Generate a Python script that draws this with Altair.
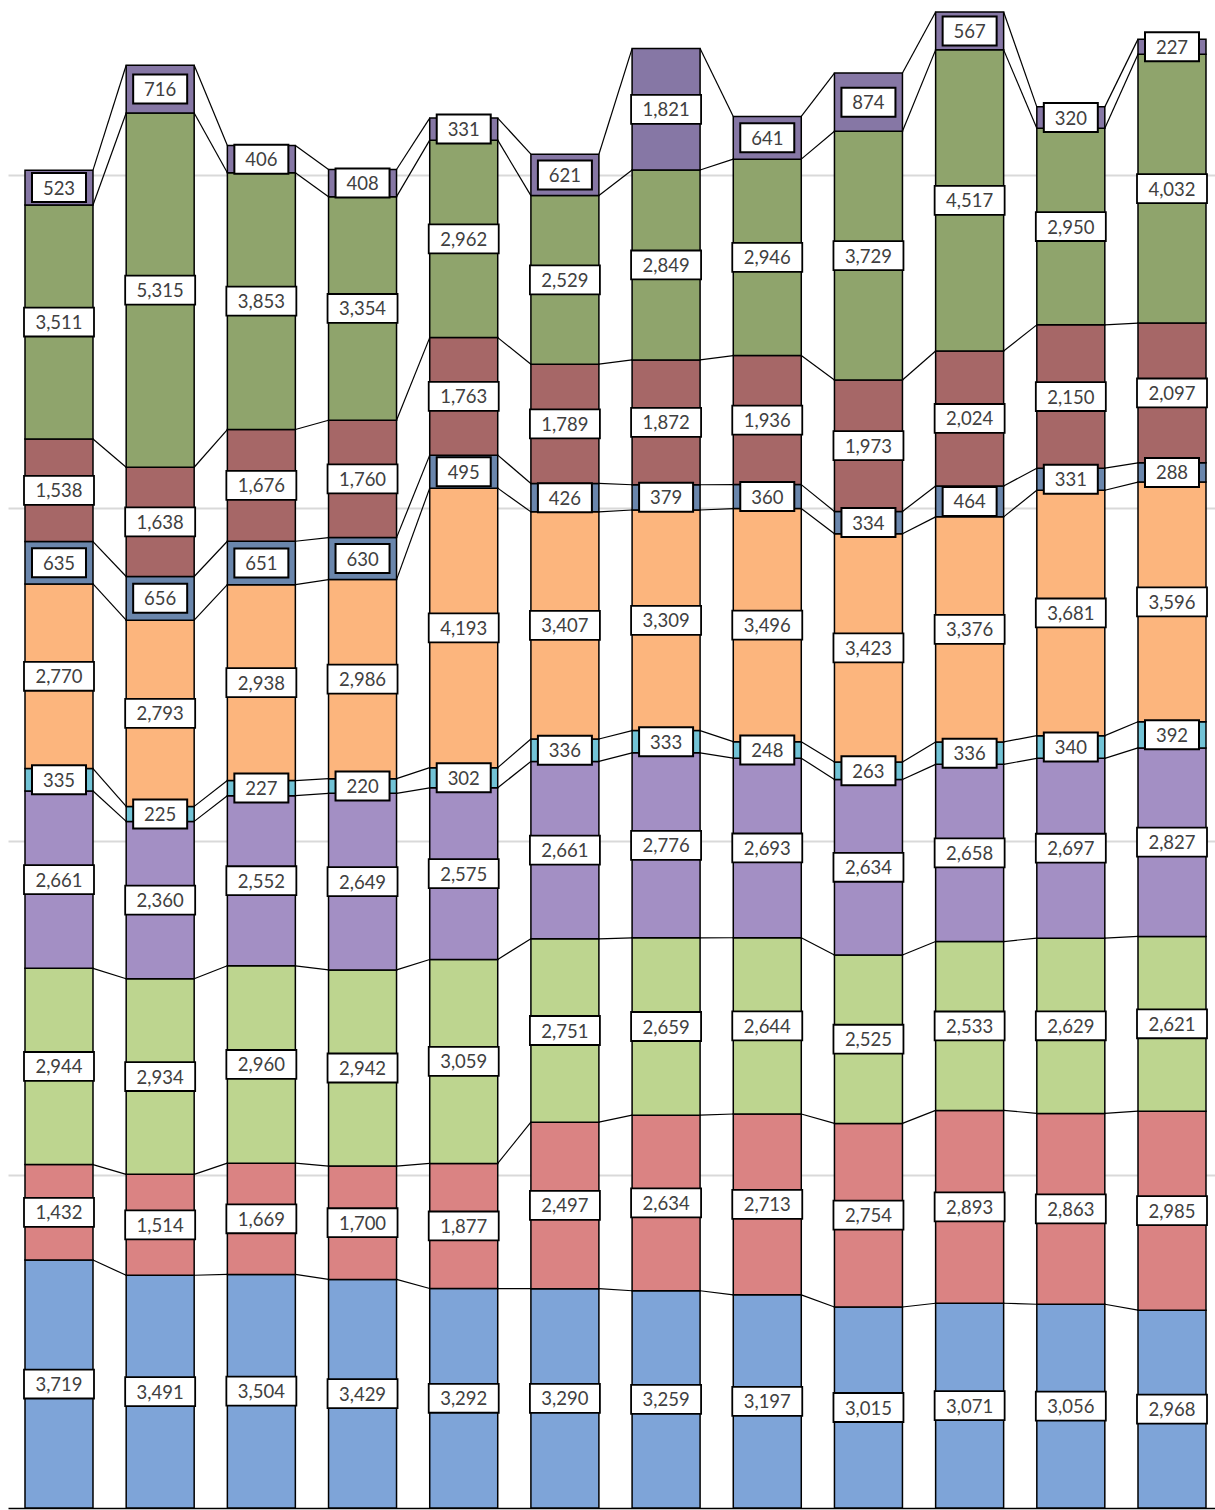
import altair as alt
import pandas as pd

# ---- data (bottom segment first) ----
bars = list(range(12))
series = ["S1", "S2", "S3", "S4", "S5", "S6", "S7", "S8", "S9", "S10"]
colors = ["#7EA4D8", "#DA8383", "#BDD58F", "#A38FC4", "#72C3D6",
          "#FCB57D", "#6A86AC", "#A66767", "#8FA46C", "#8677A5"]

s1 = [3719, 3491, 3504, 3429, 3292, 3290, 3259, 3197, 3015, 3071, 3056, 2968]
s2 = [1432, 1514, 1669, 1700, 1877, 2497, 2634, 2713, 2754, 2893, 2863, 2985]
s3 = [2944, 2934, 2960, 2942, 3059, 2751, 2659, 2644, 2525, 2533, 2629, 2621]
s4 = [2661, 2360, 2552, 2649, 2575, 2661, 2776, 2693, 2634, 2658, 2697, 2827]
s5 = [335, 225, 227, 220, 302, 336, 333, 248, 263, 336, 340, 392]
s6 = [2770, 2793, 2938, 2986, 4193, 3407, 3309, 3496, 3423, 3376, 3681, 3596]
s7 = [635, 656, 651, 630, 495, 426, 379, 360, 334, 464, 331, 288]
s8 = [1538, 1638, 1676, 1760, 1763, 1789, 1872, 1936, 1973, 2024, 2150, 2097]
s9 = [3511, 5315, 3853, 3354, 2962, 2529, 2849, 2946, 3729, 4517, 2950, 4032]
s10 = [523, 716, 406, 408, 331, 621, 1821, 641, 874, 567, 320, 227]
values = [s1, s2, s3, s4, s5, s6, s7, s8, s9, s10]

grid_values = [5000, 10000, 15000, 20000]

# ---- build tables ----
seg_rows = []
tops = {}
for i in bars:
    cum = 0
    for k, name in enumerate(series):
        v = values[k][i]
        seg_rows.append(dict(i=i, series=name, order=k, value=v,
                             y0=cum, y1=cum + v, ym=cum + v / 2))
        cum += v
        tops[(i, k)] = cum
seg = pd.DataFrame(seg_rows)

line_rows = []
for i in bars[:-1]:
    for k in range(len(series)):
        line_rows.append(dict(i=i, ly=tops[(i, k)], ry=tops[(i + 1, k)]))
lines = pd.DataFrame(line_rows)

HW = 0.336  # half bar width, in band units

xscale = alt.Scale(domain=[-0.504, 11.425], nice=False, zero=False)
yscale = alt.Scale(domain=[0, 22620], nice=False, zero=True)
xaxis = alt.Axis(labels=False, ticks=False, grid=False, title=None,
                 domainColor="black", domainWidth=1.5)
yaxis = alt.Axis(values=grid_values, labels=False, ticks=False,
                 domain=False, title=None, grid=True,
                 gridColor="#d9d9d9", gridWidth=2)

base = alt.Chart(seg)

bar_layer = base.mark_rect(stroke="black", strokeWidth=1.5).transform_calculate(
    xl=f"datum.i - {HW}", xr=f"datum.i + {HW}"
).encode(
    x=alt.X("xl:Q", scale=xscale, axis=xaxis),
    x2="xr:Q",
    y=alt.Y("y0:Q", scale=yscale, axis=yaxis),
    y2="y1:Q",
    color=alt.Color("series:N", scale=alt.Scale(domain=series, range=colors),
                    legend=None),
)

line_layer = alt.Chart(lines).mark_rule(color="black", strokeWidth=1.2).transform_calculate(
    lx=f"datum.i + {HW}", rx=f"datum.i + 1 - {HW}"
).encode(
    x=alt.X("lx:Q", scale=xscale, axis=xaxis),
    x2="rx:Q",
    y=alt.Y("ly:Q", scale=yscale, axis=yaxis),
    y2="ry:Q",
)

WIDE = "M-1,-0.414L1,-0.414L1,0.414L-1,0.414Z"
NARROW = "M-1,-0.537L1,-0.537L1,0.537L-1,0.537Z"

box_wide = base.transform_filter("datum.value >= 1000").mark_point(
    shape=WIDE, size=4900, filled=True, fill="white", stroke="black",
    strokeWidth=1.8, opacity=1
).encode(
    x=alt.X("i:Q", scale=xscale, axis=xaxis),
    y=alt.Y("ym:Q", scale=yscale, axis=yaxis),
)

box_narrow = base.transform_filter("datum.value < 1000").mark_point(
    shape=NARROW, size=2916, filled=True, fill="white", stroke="black",
    strokeWidth=2, opacity=1
).encode(
    x=alt.X("i:Q", scale=xscale, axis=xaxis),
    y=alt.Y("ym:Q", scale=yscale, axis=yaxis),
)

text_layer = base.mark_text(font="Lato", fontSize=18.5, color="#404040",
                            baseline="middle", align="center", dy=1).encode(
    x=alt.X("i:Q", scale=xscale, axis=xaxis),
    y=alt.Y("ym:Q", scale=yscale, axis=yaxis),
    text=alt.Text("value:Q", format=",d"),
)

chart = alt.layer(bar_layer, line_layer, box_wide, box_narrow, text_layer).properties(
    width=1207, height=1508,
    autosize=alt.AutoSizeParams(type="none"),
    padding={"left": 8, "top": 0, "right": 0, "bottom": 2},
    background="white",
).configure_view(stroke=None)

chart.save("out.html", embed_options={"renderer": "svg", "actions": False})
